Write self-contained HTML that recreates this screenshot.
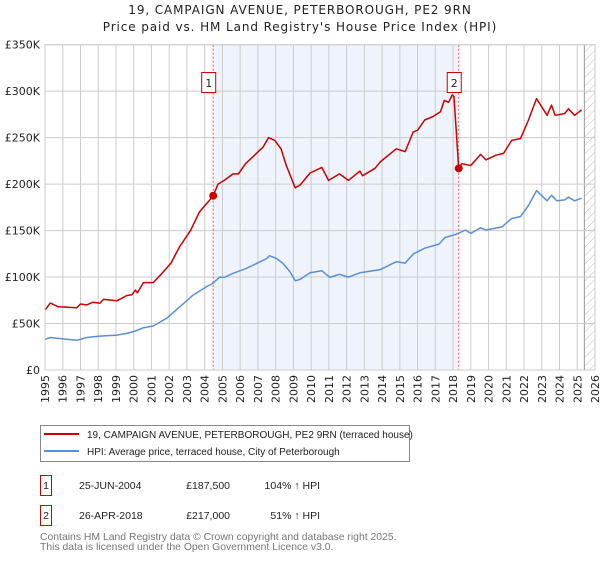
<!DOCTYPE html>
<html><head><meta charset="utf-8"><style>
body{margin:0;background:#fff;font-family:"Liberation Sans","DejaVu Sans",sans-serif}
svg text{font-family:"DejaVu Sans","Liberation Sans",sans-serif}
svg text.lib{font-family:"Liberation Sans","DejaVu Sans",sans-serif}
</style></head><body>
<svg id="c" width="600" height="560" viewBox="0 0 600 560" xmlns="http://www.w3.org/2000/svg">
<defs><pattern id="hatch" width="6" height="6" patternUnits="userSpaceOnUse" patternTransform="rotate(45)"><line x1="0" y1="0" x2="0" y2="6" stroke="#bbb" stroke-width="1"/></pattern></defs>
<text x="300" y="14" text-anchor="middle" font-size="12" letter-spacing="0.9" fill="#222">19, CAMPAIGN AVENUE, PETERBOROUGH, PE2 9RN</text>
<text x="300" y="31" text-anchor="middle" font-size="12" letter-spacing="0.9" fill="#222">Price paid vs. HM Land Registry's House Price Index (HPI)</text>
<g id="plot"></g>
<g>
<rect x="40.5" y="425.5" width="369" height="36" fill="#fff" stroke="#888"/>
<line x1="44" y1="434" x2="79" y2="434" stroke="#cc0000" stroke-width="2"/>
<text class="lib" x="87" y="438" font-size="10" fill="#222">19, CAMPAIGN AVENUE, PETERBOROUGH, PE2 9RN (terraced house)</text>
<line x1="44" y1="451" x2="79" y2="451" stroke="#5b8fd4" stroke-width="2"/>
<text class="lib" x="87" y="455" font-size="10" fill="#222">HPI: Average price, terraced house, City of Peterborough</text>
</g>
<g font-size="10.5" fill="#222">
<rect x="40.5" y="475.5" width="11" height="20" fill="none" stroke="#cc0000"/><text class="lib" x="46" y="489" text-anchor="middle">1</text>
<text class="lib" x="79" y="489">25-JUN-2004</text><text class="lib" x="230" y="489" text-anchor="end">£187,500</text><text class="lib" x="320" y="489" text-anchor="end">104% ↑ HPI</text>
<rect x="40.5" y="505.5" width="11" height="20" fill="none" stroke="#cc0000"/><text class="lib" x="46" y="519" text-anchor="middle">2</text>
<text class="lib" x="79" y="519">26-APR-2018</text><text class="lib" x="230" y="519" text-anchor="end">£217,000</text><text class="lib" x="320" y="519" text-anchor="end">51% ↑ HPI</text>
</g>
<text class="lib" x="40" y="540" font-size="10.4" fill="#777">Contains HM Land Registry data © Crown copyright and database right 2025.</text>
<text class="lib" x="40" y="550" font-size="10.4" fill="#777">This data is licensed under the Open Government Licence v3.0.</text>
</svg>
<script>
const yTicks=[0,50,100,150,200,250,300,350];
const yLabels=["£0","£50K","£100K","£150K","£200K","£250K","£300K","£350K"];
const xYears=[1995,1996,1997,1998,1999,2000,2001,2002,2003,2004,2005,2006,2007,2008,2009,2010,2011,2012,2013,2014,2015,2016,2017,2018,2019,2020,2021,2022,2023,2024,2025,2026];
const saleYears=[2004.48,2018.32];
const saleValues=[187.5,217];
const saleLabels=["1","2"];
const propYears=[1995.0,1995.3,1995.75,1996.8,1997.0,1997.35,1997.7,1998.1,1998.3,1999.05,1999.6,1999.9,2000.1,2000.2,2000.55,2001.1,2001.5,2002.1,2002.6,2003.2,2003.7,2004.2,2004.48,2004.75,2005.1,2005.6,2005.9,2006.3,2006.75,2007.3,2007.6,2007.95,2008.3,2008.6,2009.1,2009.38,2009.94,2010.6,2010.98,2011.6,2012.1,2012.75,2012.9,2013.6,2013.9,2014.8,2015.3,2015.75,2016.0,2016.4,2016.9,2017.3,2017.5,2017.75,2017.95,2018.05,2018.32,2018.5,2019.0,2019.55,2019.85,2020.4,2020.85,2021.3,2021.8,2022.25,2022.7,2023.3,2023.55,2023.75,2024.3,2024.5,2024.85,2025.25];
const propValues=[64.5,72,68,67,71,70,73,72,76,74.5,80,81,86,83,94,94,102,115,133,150,170,181,187.5,200,204,211,211,222,230,240,250,247,238,220,196,199,212,218,204,211,204,214,209,217,224,238,235,256,258,269,273,278,290,288,296,294,217,222,220,232,226,231,233,247,249,269,292,274,285,274,276,281,274,280];
const hpiYears=[1995.0,1995.3,1996.2,1996.8,1997.35,1998.1,1999.05,1999.6,2000.1,2000.55,2001.1,2001.85,2002.6,2003.35,2004.1,2004.4,2004.85,2005.1,2005.6,2006.3,2006.75,2007.5,2007.65,2008.05,2008.4,2008.8,2009.1,2009.38,2009.94,2010.6,2011.05,2011.6,2012.1,2012.75,2013.9,2014.8,2015.3,2015.75,2016.4,2017.2,2017.55,2018.16,2018.7,2019.0,2019.55,2019.85,2020.75,2021.3,2021.8,2022.25,2022.7,2023.3,2023.55,2023.85,2024.3,2024.5,2024.85,2025.25];
const hpiValues=[33,35,33,32,35,36.5,37.6,39.4,42,45.5,47.3,55.5,68,80.6,89.6,92.5,100,99.6,104,109,113,120,123,120,115,106,96,97.5,104.6,106.8,99.6,103,100,104.6,108,116.5,115,124.7,131,135.5,142.6,146,150.5,147,153,150.5,154,163,165,177,193,182,188,182,183,186,182,185];
const X0=45,X1=595,Y0=370,Y1=44.7;
const x=y=>X0+(y-1995)/(2026-1995)*(X1-X0);
const yS=v=>Y0-v/350*(Y0-Y1);
const NS="http://www.w3.org/2000/svg";
const g=document.getElementById('plot');
function mk(t,a,p){const e=document.createElementNS(NS,t);for(const k in a)e.setAttribute(k,a[k]);(p||g).appendChild(e);return e;}
let e;
e=mk('rect',{x:x(saleYears[0]),y:Y1,width:x(saleYears[1])-x(saleYears[0]),height:Y0-Y1,fill:'#eef3fc'});


e=mk('rect',{x:x(2025.4),y:Y1,width:X1-x(2025.4),height:Y0-Y1,fill:'url(#hatch)'});


mk('line',{x1:x(2025.4),x2:x(2025.4),y1:Y1,y2:Y0,stroke:'#999'});
xYears.forEach(yr=>{
 e=mk('line',{x1:x(yr),x2:x(yr),y1:Y1,y2:Y0,stroke:'#ccc'});
 
 
 e=mk('text',{transform:`translate(${x(yr)+4},375) rotate(-90)`,'text-anchor':'end','font-size':'11',fill:'#222'});
 e.textContent=yr;
 
 
});
yTicks.forEach((v,i)=>{
 e=mk('line',{x1:X0,x2:X1,y1:yS(v),y2:yS(v),stroke:'#ccc'});
 
 
 e=mk('text',{x:40,y:yS(v)+4,'text-anchor':'end','font-size':'11',fill:'#222'});
 e.textContent=yLabels[i];
 
 
});
saleYears.forEach((s,i)=>{
 e=mk('line',{x1:x(s),x2:x(s),y1:Y1,y2:Y0,stroke:'#ee5555','stroke-dasharray':'2,2'});
 
 
});
function path(xs,vs,col,name){
 const d=xs.map((a,i)=>(i?'L':'M')+x(a).toFixed(1)+','+yS(vs[i]).toFixed(1)).join('');
 e=mk('path',{d:d,fill:'none',stroke:col,'stroke-width':1.5,'stroke-linejoin':'round'});
 
 
}
path(hpiYears,hpiValues,'#5b8fd4','hpi-line');
path(propYears,propValues,'#cc0000','property-line');
saleYears.forEach((s,i)=>{
 e=mk('circle',{cx:x(s),cy:yS(saleValues[i]),r:4,fill:'#cc0000'});
 
 
 e=mk('rect',{x:x(s)-11.5,y:72.5,width:14,height:20,fill:'#fff',stroke:'#cc0000'});
 
 
 e=mk('text',{x:x(s)-4.5,y:87,'text-anchor':'middle','font-size':'11',fill:'#222'});
 e.textContent=saleLabels[i];
 
 
});
mk('rect',{x:X0,y:Y1,width:X1-X0,height:Y0-Y1,fill:'none',stroke:'#ccc'});
</script>
</body></html>
